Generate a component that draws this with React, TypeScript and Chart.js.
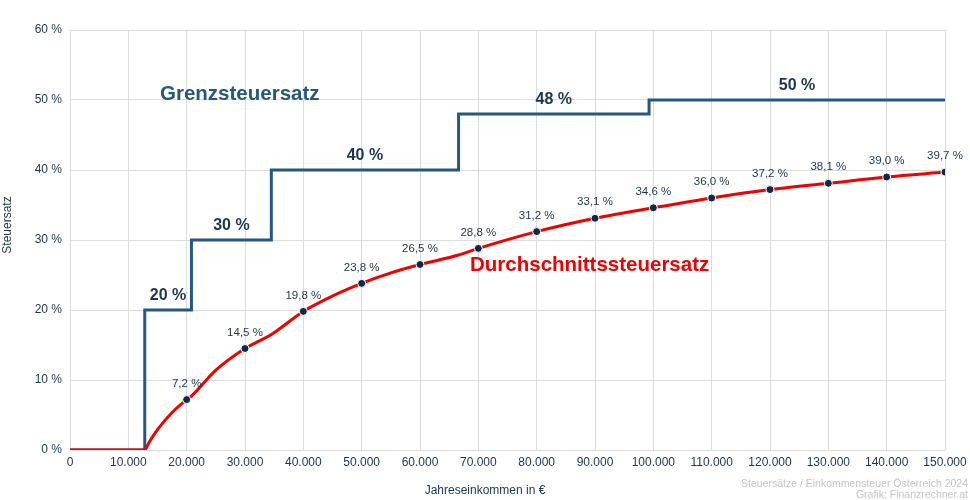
import React, { useEffect, useRef } from "react";
import { Chart, registerables } from "chart.js";

Chart.register(...registerables);

// Marginal tax rate steps (income threshold, rate from there on)
const stepIncomes = [0, 12816, 20818, 34513, 66612, 99266, 150000];
const stepRates = [0, 20, 30, 40, 48, 50, 50];
const stepLabelRates = [20, 30, 40, 48, 50];

// Average tax rate curve
const curveIncomes = [0, 12816, 13500, 15000, 17500, 20000, 20818, 25000, 30000, 34513, 40000, 45000, 50000, 55000, 60000, 66612, 70000, 80000, 90000, 99266, 100000, 110000, 120000, 130000, 140000, 150000];
const curveRates = [0, 0, 1.0, 2.9, 5.35, 7.2, 7.7, 11.4, 14.5, 16.5, 19.8, 22.0, 23.8, 25.3, 26.5, 27.85, 28.8, 31.2, 33.1, 34.5, 34.6, 36.0, 37.2, 38.1, 39.0, 39.7];

// Labeled points
const markIncomes = [20000, 30000, 40000, 50000, 60000, 70000, 80000, 90000, 100000, 110000, 120000, 130000, 140000, 150000];
const markRates = [7.2, 14.5, 19.8, 23.8, 26.5, 28.8, 31.2, 33.1, 34.6, 36.0, 37.2, 38.1, 39.0, 39.7];

const FONT = "'Liberation Sans', Arial, Helvetica, sans-serif";
const BLUE = "#25587c";
const RED = "#f00000";
const DARK = "#1c3550";

const fmtThousands = (v: number) =>
  String(Math.round(v)).replace(/\B(?=(\d{3})+(?!\d))/g, ".");

const annotationPlugin = {
  id: "annots",
  afterDatasetsDraw(chart: any) {
    const ctx = chart.ctx;
    const xs = chart.scales.x;
    const ys = chart.scales.y;
    ctx.save();
    // point value labels
    ctx.font = `11.5px ${FONT}`;
    ctx.fillStyle = DARK;
    ctx.textAlign = "center";
    ctx.textBaseline = "middle";
    markIncomes.forEach((inc, i) => {
      const px = xs.getPixelForValue(inc);
      const py = ys.getPixelForValue(markRates[i]);
      ctx.fillText(markRates[i].toFixed(1).replace(".", ",") + " %", px, py - 16);
    });
    // step labels
    ctx.font = `bold 16px ${FONT}`;
    ctx.fillStyle = DARK;
    for (let i = 1; i <= stepLabelRates.length; i++) {
      const mid = (stepIncomes[i] + stepIncomes[i + 1]) / 2;
      const px = xs.getPixelForValue(mid);
      const py = ys.getPixelForValue(stepRates[i]);
      ctx.fillText(stepLabelRates[i - 1] + " %", px, py - 14);
    }
    // series names
    ctx.font = `bold 20.5px ${FONT}`;
    ctx.fillStyle = BLUE;
    ctx.textAlign = "left";
    ctx.fillText("Grenzsteuersatz", 160, 94);
    ctx.fillStyle = RED;
    ctx.fillText("Durchschnittssteuersatz", 470, 265);
    // axis titles
    ctx.font = `12px ${FONT}`;
    ctx.fillStyle = DARK;
    ctx.textAlign = "center";
    ctx.fillText("Jahreseinkommen in \u20ac", 485, 491);
    ctx.save();
    ctx.translate(8, 225);
    ctx.rotate(-Math.PI / 2);
    ctx.fillText("Steuersatz", 0, 0);
    ctx.restore();
    // credits
    ctx.font = `10.5px ${FONT}`;
    ctx.fillStyle = "#c4c4c4";
    ctx.textAlign = "right";
    ctx.fillText("Steuers\u00e4tze / Einkommensteuer \u00d6sterreich 2024", 968, 484);
    ctx.fillText("Grafik: Finanzrechner.at", 968, 495);
    ctx.restore();
  },
};

export default function App() {
  const ref = useRef<HTMLCanvasElement>(null);
  useEffect(() => {
    if (!ref.current) return;
    const chart = new Chart(ref.current, {
      type: "line",
      data: {
        datasets: [
          {
            label: "Punkte",
            type: "scatter",
            data: markIncomes.map((x, i) => ({ x, y: markRates[i] })),
            pointRadius: 4,
            pointBackgroundColor: "#0d2a44",
            pointBorderColor: "#ffffff",
            pointBorderWidth: 1,
            order: 0,
          } as any,
          {
            label: "Durchschnittssteuersatz",
            data: curveIncomes.map((x, i) => ({ x, y: curveRates[i] })),
            borderColor: RED,
            borderWidth: 3,
            pointRadius: 0,
            cubicInterpolationMode: "monotone",
            order: 1,
          },
          {
            label: "Grenzsteuersatz",
            data: stepIncomes.map((x, i) => ({ x, y: stepRates[i] })),
            borderColor: BLUE,
            borderWidth: 3,
            pointRadius: 0,
            stepped: true,
            order: 2,
          },
        ],
      },
      options: {
        animation: false,
        responsive: false,
        maintainAspectRatio: false,
        layout: { padding: { left: 0, right: 25, top: 30, bottom: 0 } },
        plugins: {
          legend: { display: false },
          tooltip: { enabled: false },
          title: { display: false },
        },
        scales: {
          x: {
            type: "linear",
            min: 0,
            max: 150000,
            grid: { color: "#dddddd", lineWidth: 1, drawTicks: false },
            border: { display: false },
            ticks: {
              stepSize: 10000,
              padding: 5,
              color: DARK,
              font: { family: FONT, size: 12 },
              callback: (v: any) => fmtThousands(Number(v)),
              maxRotation: 0,
            },
            afterFit: (s: any) => {
              s.height = 50;
              s.paddingRight = 0;
              s.paddingLeft = 0;
            },
          },
          y: {
            min: 0,
            max: 60,
            grid: { color: "#dddddd", lineWidth: 1, drawTicks: false },
            border: { display: false },
            ticks: {
              stepSize: 10,
              padding: 8,
              color: DARK,
              font: { family: FONT, size: 12 },
              callback: (v: any) => v + " %",
            },
            afterFit: (s: any) => {
              s.width = 70;
              s.paddingTop = 0;
              s.paddingBottom = 0;
            },
          },
        },
      } as any,
      plugins: [annotationPlugin],
    });
    return () => chart.destroy();
  }, []);
  return (
    <div style={{ position: "fixed", left: 0, top: 0, width: 970, height: 500, background: "#fff" }}>
      <canvas ref={ref} width={970} height={500} style={{ width: 970, height: 500 }} />
    </div>
  );
}
